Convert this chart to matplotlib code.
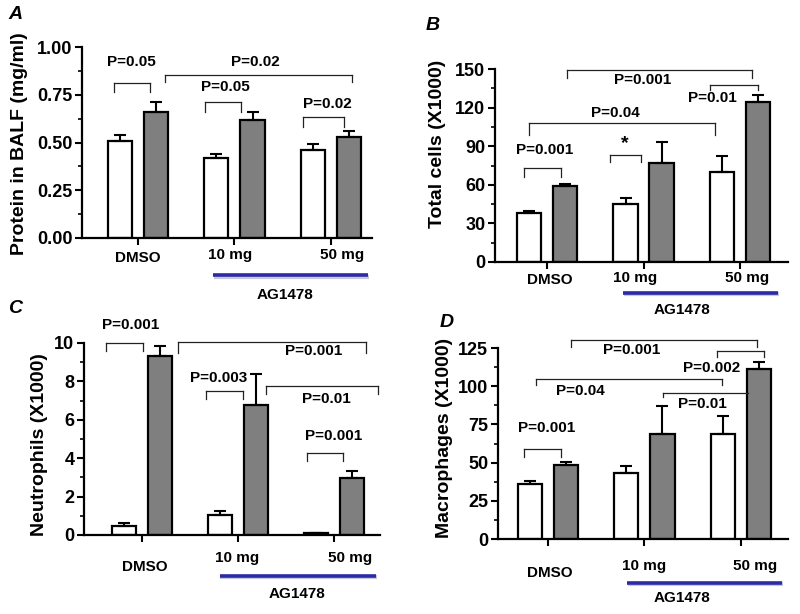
import matplotlib
matplotlib.use("Agg")
import matplotlib.pyplot as plt
from matplotlib.ticker import MultipleLocator, FormatStrFormatter

plt.rcParams['font.family'] = ['Liberation Sans', 'DejaVu Sans']
plt.rcParams['font.weight'] = 'bold'

# data
groups = ['DMSO', '10 mg', '50 mg']

protein_ctrl = [0.51, 0.42, 0.46]
protein_ctrl_err = [0.03, 0.02, 0.03]
protein_lps = [0.66, 0.62, 0.53]
protein_lps_err = [0.05, 0.04, 0.03]

total_ctrl = [38, 45, 70]
total_ctrl_err = [1.5, 5, 12]
total_lps = [59, 77, 124]
total_lps_err = [2, 16, 5.5]

neut_ctrl = [0.45, 1.02, 0.08]
neut_ctrl_err = [0.18, 0.23, 0.03]
neut_lps = [9.3, 6.78, 2.96]
neut_lps_err = [0.52, 1.6, 0.35]

mac_ctrl = [36, 43, 69]
mac_ctrl_err = [2, 5, 11.5]
mac_lps = [48.5, 69, 111]
mac_lps_err = [2, 18, 5]

# p-value brackets: (x1, x2, y_top, y_leg, legs, label, tx, ty)
ann_a = [
    (-0.25, 0.12, 0.81, 0.765, (1, 1), 'P=0.05', -0.07, 0.92),
    (0.28, 2.22, 0.853, 0.817, (1, 1), 'P=0.02', 1.22, 0.92),
    (0.69, 1.07, 0.71, 0.66, (1, 1), 'P=0.05', 0.91, 0.79),
    (1.71, 2.13, 0.633, 0.58, (1, 1), 'P=0.02', 1.96, 0.70),
]
ann_b = [
    (-0.24, 0.145, 72.8, 66.3, (1, 1), 'P=0.001', -0.03, 87),
    (0.65, 0.97, 83.2, 78, (1, 1), '*', 0.81, 92),
    (-0.19, 1.745, 108.3, 98.7, (1, 1), 'P=0.04', 0.71, 115.5),
    (0.21, 2.13, 149.5, 142.8, (1, 1), 'P=0.001', 0.99, 141.5),
    (1.69, 2.19, 137.6, 133.7, (1, 1), 'P=0.01', 1.72, 127.7),
]
ann_c = [
    (-0.37, 0.01, 10.02, 9.6, (1, 1), 'P=0.001', -0.12, 10.94),
    (0.38, 2.33, 10.07, 9.46, (1, 1), 'P=0.001', 1.79, 9.6),
    (0.67, 1.05, 7.52, 7.07, (1, 1), 'P=0.003', 0.80, 8.16),
    (1.29, 2.46, 7.76, 7.34, (1, 1), 'P=0.01', 1.92, 7.08),
    (1.72, 2.10, 4.26, 3.83, (1, 1), 'P=0.001', 2.0, 5.17),
]
ann_d = [
    (-0.25, 0.135, 58.9, 53.9, (1, 1), 'P=0.001', -0.02, 72.4),
    (-0.13, 1.80, 104.5, 100.8, (1, 1), 'P=0.04', 0.33, 97),
    (0.24, 2.17, 130.4, 125.7, (1, 1), 'P=0.001', 0.87, 123.5),
    (1.75, 2.24, 123, 119.3, (1, 1), 'P=0.002', 1.70, 112),
    (1.19, 2.07, 95.7, 92.7, (1, 0), 'P=0.01', 1.60, 88.2),
]

GREY = '#7f7f7f'
BLUE = '#2b2ba8'
W = 0.25
OFF = 0.187

fig = plt.figure(figsize=(8, 6.14), dpi=100)


def bracket(ax, x1, x2, yt, yl, legs):
    ax.plot([x1, x2], [yt, yt], color='#222222', lw=0.9, clip_on=False)
    if legs[0]:
        ax.plot([x1, x1], [yt, yl], color='#222222', lw=0.9, clip_on=False)
    if legs[1]:
        ax.plot([x2, x2], [yt, yl], color='#222222', lw=0.9, clip_on=False)


def panel(rect, xlim, ymax, ystep, fmt, ctrl, ctrl_err, lps, lps_err,
          ylabel, lab_xy, ann, lab_pos, ag_pos):
    ax = fig.add_axes(rect)
    x = range(len(groups))
    xc = [i - OFF for i in x]
    xl = [i + OFF for i in x]
    ax.bar(xc, ctrl, W, color='white', edgecolor='black', linewidth=1.6,
           yerr=[[0] * 3, ctrl_err], capsize=4.5,
           error_kw=dict(elinewidth=1.5, capthick=1.5, ecolor='black'))
    ax.bar(xl, lps, W, color=GREY, edgecolor='black', linewidth=1.6,
           yerr=[[0] * 3, lps_err], capsize=4.5,
           error_kw=dict(elinewidth=1.5, capthick=1.5, ecolor='black'))
    ax.set_xlim(*xlim)
    ax.set_ylim(0, ymax)
    for s in ['top', 'right']:
        ax.spines[s].set_visible(False)
    for s in ['left', 'bottom']:
        ax.spines[s].set_linewidth(1.6)
    ax.yaxis.set_major_locator(MultipleLocator(ystep))
    ax.yaxis.set_minor_locator(MultipleLocator(ystep / 2))
    ax.yaxis.set_major_formatter(FormatStrFormatter(fmt))
    ax.set_xticks(list(x))
    ax.set_xticklabels([])
    ax.tick_params(axis='both', which='major', length=5, width=1.5,
                   labelsize=13, pad=2)
    ax.tick_params(axis='y', which='minor', length=3, width=1.2)
    ax.set_ylabel(ylabel, fontsize=14, fontweight='bold', va='center')
    ax.yaxis.set_label_coords(*lab_xy)
    for x1, x2, yt, yl, legs, txt, tx, ty in ann:
        bracket(ax, x1, x2, yt, yl, legs)
        ax.text(tx, ty, txt, ha='center', va='center',
                fontsize=14 if txt == '*' else 11, fontweight='bold')
    tr = ax.get_xaxis_transform()
    (dx, dy), (tx, ty), (fx, fy) = lab_pos
    ax.text(dx, dy, groups[0], transform=tr, ha='center', va='center',
            fontsize=11, clip_on=False)
    ax.text(tx, ty, groups[1], transform=tr, ha='center', va='center',
            fontsize=11, clip_on=False)
    ax.text(fx, fy, groups[2], transform=tr, ha='center', va='center',
            fontsize=11, clip_on=False)
    lx1, lx2, ly, ax_, ay = ag_pos
    ax.plot([lx1 + 0.01, lx2 + 0.01], [ly - 0.008, ly - 0.008], color='#c8c8d8',
            lw=3, transform=tr, clip_on=False, solid_capstyle='butt')
    ax.plot([lx1, lx2], [ly, ly], color=BLUE, lw=2.6, transform=tr,
            clip_on=False, solid_capstyle='butt')
    ax.text(ax_, ay, 'AG1478', transform=tr, ha='center', va='center',
            fontsize=11, clip_on=False)
    return ax


panel([0.1025, 0.6124, 0.3625, 0.311], (-0.58, 2.425), 1.0, 0.25, '%.2f',
      protein_ctrl, protein_ctrl_err, protein_lps, protein_lps_err,
      'Protein in BALF (mg/ml)', (-0.214, 0.495), ann_a,
      ((0.0, -0.105), (0.95, -0.089), (2.11, -0.089)),
      (0.78, 2.38, -0.194, 1.52, -0.30))

panel([0.619, 0.5733, 0.366, 0.3143], (-0.54, 2.50), 150, 30, '%d',
      total_ctrl, total_ctrl_err, total_lps, total_lps_err,
      'Total cells (X1000)', (-0.198, 0.61), ann_b,
      ((0.03, -0.093), (0.91, -0.083), (2.08, -0.083)),
      (0.79, 2.40, -0.16, 1.40, -0.25))

panel([0.105, 0.1287, 0.37, 0.3127], (-0.60, 2.48), 10, 2, '%d',
      neut_ctrl, neut_ctrl_err, neut_lps, neut_lps_err,
      'Neutrophils (X1000)', (-0.149, 0.47), ann_c,
      ((0.036, -0.167), (0.99, -0.12), (2.17, -0.12)),
      (0.81, 2.44, -0.213, 1.62, -0.31))

panel([0.6225, 0.1221, 0.3625, 0.311], (-0.52, 2.49), 125, 25, '%d',
      mac_ctrl, mac_ctrl_err, mac_lps, mac_lps_err,
      'Macrophages (X1000)', (-0.183, 0.53), ann_d,
      ((0.02, -0.178), (1.0, -0.141), (2.15, -0.141)),
      (0.82, 2.43, -0.23, 1.39, -0.31))

for lbl, fx, fy in [('A', 0.019, 0.976), ('B', 0.541, 0.959),
                    ('C', 0.019, 0.498), ('D', 0.559, 0.474)]:
    fig.text(fx, fy, lbl, fontsize=14, fontweight='bold', style='italic',
             ha='center', va='center')

fig.savefig('out.png', dpi=100, facecolor='white')
